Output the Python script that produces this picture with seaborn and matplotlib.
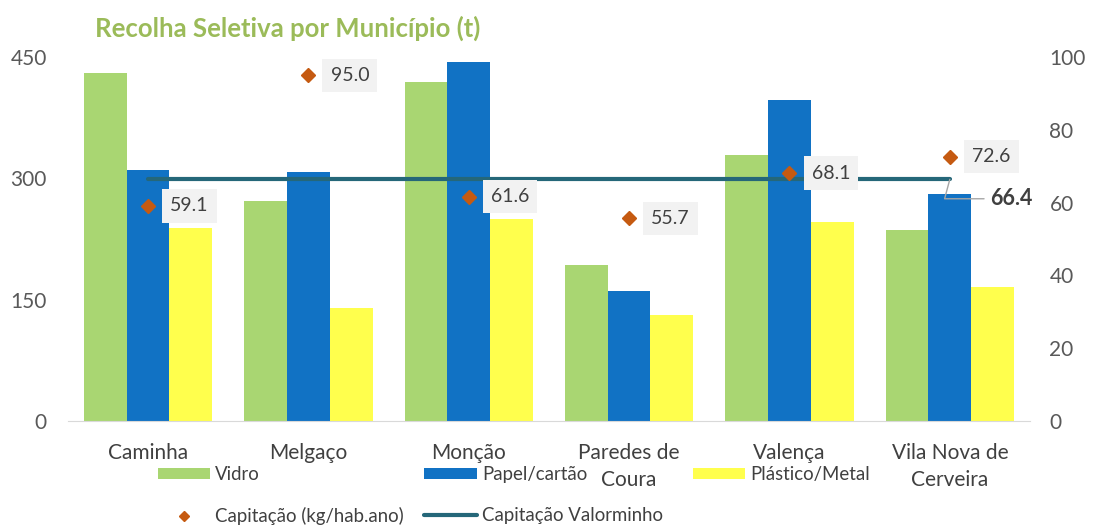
import matplotlib
matplotlib.use("Agg")
import matplotlib.pyplot as plt
import pandas as pd
import seaborn as sns
from matplotlib.patches import Patch
from matplotlib.lines import Line2D

# Data
municipios = ['Caminha', 'Melgaço', 'Monção', 'Paredes de\nCoura', 'Valença', 'Vila Nova de\nCerveira']
vidro = [430, 272, 419, 193, 329, 236]
papel = [310, 308, 444, 161, 397, 281]
plastico = [238, 140, 250, 131, 246, 166]
capitacao = [59.1, 95.0, 61.6, 55.7, 68.1, 72.6]
valorminho = 66.4

materiais = ['Vidro', 'Papel/cartão', 'Plástico/Metal']
cores = ['#A9D672', '#1172C4', '#FFFF4D']
cor_diamante = '#C55A11'
cor_linha = '#256779'
cinza = '#595959'

sns.set_style('white')
plt.rcParams['font.family'] = ['Lato', 'DejaVu Sans']

df = pd.DataFrame({'Município': municipios, 'Vidro': vidro,
                   'Papel/cartão': papel, 'Plástico/Metal': plastico})
df_long = df.melt(id_vars='Município', var_name='Material', value_name='Toneladas')

fig = plt.figure(figsize=(10.94, 5.26), dpi=100)
ax = fig.add_axes([0.062, 0.1996, 0.8795, 0.692])

sns.barplot(data=df_long, x='Município', y='Toneladas', hue='Material',
            hue_order=materiais, palette=cores, saturation=1, edgecolor='none',
            linewidth=0, legend=False, ax=ax)
ax.set_ylim(0, 450)
ax.set_yticks([0, 150, 300, 450])
ax.set_xlabel('')
ax.set_ylabel('')
ax.tick_params(axis='y', length=0, pad=15, labelsize=15, labelcolor=cinza)
ax.tick_params(axis='x', length=0, pad=16, labelsize=15, labelcolor='#404040')
for lbl in ax.get_xticklabels():
    lbl.set_linespacing(1.45)
for s in ['top', 'left', 'right']:
    ax.spines[s].set_visible(False)
ax.spines['bottom'].set_color('#D9D9D9')
ax.set_xlim(-0.5, 5.5)

ax2 = ax.twinx()
ax2.set_ylim(0, 100)
ax2.set_yticks([0, 20, 40, 60, 80, 100])
ax2.tick_params(axis='y', length=0, pad=14, labelsize=15, labelcolor=cinza)
for s in ax2.spines.values():
    s.set_visible(False)

x = list(range(len(municipios)))
ax2.plot(x, [valorminho] * len(x), color=cor_linha, lw=3, solid_capstyle='round', zorder=3)
ax2.plot(x, capitacao, linestyle='none', marker='D', markersize=7.5,
         color=cor_diamante, zorder=4)

for xi, v in zip(x, capitacao):
    ax2.annotate(f'{v:.1f}', (xi, v), xytext=(16, 0), textcoords='offset points',
                 ha='left', va='center', fontsize=14, color='#404040',
                 bbox=dict(boxstyle='square,pad=0.42', facecolor='#F2F2F2', edgecolor='none'),
                 zorder=5)

ax2.annotate(f'{valorminho:.1f}', (x[-1], valorminho), xytext=(29, -14),
             textcoords='offset points', ha='left', va='center', fontsize=15.5,
             fontweight='bold', color='#404040',
             arrowprops=dict(arrowstyle='-', color='#A6A6A6', lw=1, shrinkA=2, shrinkB=0,
                             connectionstyle='angle,angleA=0,angleB=75'))

fig.text(0.087, 0.947, 'Recolha Seletiva por Município (t)', fontsize=18.5,
         fontweight='bold', color='#9BBB59', ha='left', va='center')

# legend: three columns placed separately so they line up with the reference
leg_kw = dict(loc='upper left', frameon=False, fontsize=13.4, handlelength=2.8,
              handleheight=0.6, handletextpad=0.3, labelspacing=1.3,
              borderpad=0, borderaxespad=0, labelcolor='#404040')
colunas = [
    (0.144, [Patch(facecolor=cores[0], edgecolor='none'),
             Line2D([], [], linestyle='none', marker='D', markersize=5, color=cor_diamante)],
     ['Vidro', 'Capitação (kg/hab.ano)']),
    (0.388, [Patch(facecolor=cores[1], edgecolor='none'),
             Line2D([], [], color=cor_linha, lw=3)],
     ['Papel/cartão', 'Capitação Valorminho']),
    (0.633, [Patch(facecolor=cores[2], edgecolor='none')], ['Plástico/Metal']),
]
for xpos, hs, ls in colunas:
    fig.legend(hs, ls, bbox_to_anchor=(xpos, 0.114), **leg_kw)

fig.savefig('out.png', dpi=100)
